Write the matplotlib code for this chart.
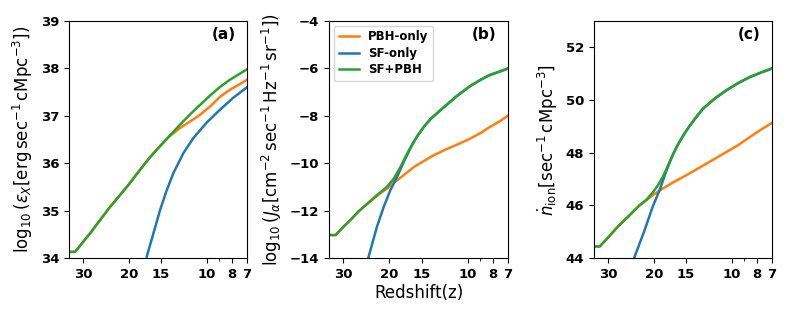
import matplotlib
matplotlib.use("Agg")
import matplotlib.pyplot as plt
from matplotlib.ticker import FixedLocator, FixedFormatter, NullFormatter

orange = "#ff7f0e"
blue = "#1f77b4"
green = "#2ca02c"

# panel (a): X-ray emissivity
za_pbh = [34, 32.2, 30, 28.2, 25.8, 23.6, 21.6, 19.8, 18.1, 16.6, 15.15, 14.4,
          13.9, 12.7, 11.6, 10.62, 9.7, 8.89, 8.14, 7.5, 7]
a_pbh = [34.13, 34.13, 34.34, 34.52, 34.80, 35.08, 35.33, 35.58, 35.86, 36.12, 36.36, 36.49,
         36.57, 36.74, 36.88, 37.02, 37.20, 37.40, 37.55, 37.66, 37.76]
za_sf = [17.05, 16.07, 15.15, 14.28, 13.46, 12.32, 11.27, 10.0, 8.89, 7.91, 7]
a_sf = [34.03, 34.52, 35.01, 35.43, 35.79, 36.21, 36.53, 36.86, 37.13, 37.38, 37.60]
za_tot = [34, 32.2, 30, 28.2, 25.8, 23.6, 21.6, 19.8, 18.1, 16.6, 15.15, 13.9,
          12.7, 11.6, 10.62, 9.7, 8.89, 8.14, 7.5, 7]
a_tot = [34.13, 34.13, 34.34, 34.52, 34.80, 35.08, 35.33, 35.58, 35.86, 36.12, 36.36, 36.58,
         36.81, 37.03, 37.23, 37.43, 37.61, 37.76, 37.88, 37.98]

# panel (b): Lyman-alpha flux
zb_pbh = [34, 32.1, 30, 28, 26.3, 25.1, 22.3, 20.4, 18.65, 16.07, 13.85, 12.13,
          11.0, 9.84, 8.9, 8.24, 7.5, 7]
b_pbh = [-13.03, -13.03, -12.69, -12.37, -12.05, -11.85, -11.38, -11.07, -10.72, -10.16, -9.73, -9.42,
         -9.22, -8.98, -8.72, -8.48, -8.22, -7.99]
zb_sf = [24.0, 22.3, 21.0, 19.8, 18.65, 17.58, 16.56, 16.3, 15.6, 14.7, 13.85, 12.3,
         11.0, 9.84, 8.9, 8.24, 7.5, 7]
b_sf = [-13.96, -12.69, -11.85, -11.14, -10.58, -9.94, -9.36, -9.21, -8.86, -8.46, -8.13, -7.63,
        -7.17, -6.77, -6.48, -6.29, -6.13, -6.01]
zb_tot = [34, 32.1, 30, 28, 26.3, 25.1, 22.3, 20.4, 19.2, 18.1, 17.06, 16.3,
          15.6, 14.7, 13.85, 12.3, 11.0, 9.84, 8.9, 8.24, 7.5, 7]
b_tot = [-13.03, -13.03, -12.69, -12.37, -12.05, -11.85, -11.35, -11.0, -10.65, -10.16, -9.59, -9.2,
         -8.85, -8.45, -8.12, -7.62, -7.16, -6.76, -6.47, -6.28, -6.12, -6.0]

# panel (c): ionizing photon rate
zc_pbh = [34, 32.3, 30, 27.2, 24.8, 22.7, 21.3, 20.2, 18.45, 16.5, 14.98, 12.5,
          10.47, 9.4, 8.5, 7.7, 7]
c_pbh = [44.44, 44.44, 44.78, 45.24, 45.62, 46.0, 46.2, 46.38, 46.64, 46.92, 47.14, 47.59,
         48.03, 48.3, 48.6, 48.88, 49.13]
zc_sf = [23.8, 21.7, 20.2, 19.0, 17.9, 17.2, 16.87, 16.4, 15.9, 15.4, 14.98, 13.9,
         12.9, 11.6, 10.47, 9.4, 8.5, 7.7, 7]
c_sf = [44.0, 45.05, 45.94, 46.57, 47.3, 47.72, 47.91, 48.17, 48.41, 48.64, 48.83, 49.27,
        49.67, 50.06, 50.37, 50.65, 50.87, 51.04, 51.19]
zc_tot = [34, 32.3, 30, 27.2, 24.8, 22.7, 21.3, 20.2, 19.3, 18.45, 17.6, 17.2,
          16.87, 16.4, 15.9, 15.4, 14.98, 13.9, 12.9, 11.6, 10.47, 9.4, 8.5, 7.7, 7]
c_tot = [44.44, 44.44, 44.78, 45.24, 45.62, 46.0, 46.22, 46.48, 46.75, 47.08, 47.52, 47.75,
         47.93, 48.18, 48.42, 48.65, 48.84, 49.28, 49.68, 50.07, 50.38, 50.66, 50.88, 51.05, 51.2]

xticks = [30, 20, 15, 10, 8, 7]
xticklabels = ["30", "20", "15", "10", "8", "7"]

fig = plt.figure(figsize=(7.93, 3.17), dpi=100)
positions = [
    [0.087, 0.186, 0.2245, 0.748],
    [0.415, 0.186, 0.2257, 0.748],
    [0.749, 0.186, 0.2245, 0.748],
]

panels = [
    (za_pbh, a_pbh, za_sf, a_sf, za_tot, a_tot, (34, 39), [34, 35, 36, 37, 38, 39],
     r"$\log_{10}(\varepsilon_X[\mathrm{erg\,sec^{-1}\,cMpc^{-3}}])$", "(a)"),
    (zb_pbh, b_pbh, zb_sf, b_sf, zb_tot, b_tot, (-14, -4), [-14, -12, -10, -8, -6, -4],
     r"$\log_{10}(J_\alpha[\mathrm{cm^{-2}\,sec^{-1}\,Hz^{-1}\,sr^{-1}}])$", "(b)"),
    (zc_pbh, c_pbh, zc_sf, c_sf, zc_tot, c_tot, (44, 53), [44, 46, 48, 50, 52],
     r"$\dot{n}_{\mathrm{ion}}[\mathrm{sec^{-1}\,cMpc^{-3}}]$", "(c)"),
]

axes = []
for pos, (zp, vp, zs, vs, zt, vt, ylim, yticks, ylabel, tag) in zip(positions, panels):
    ax = fig.add_axes(pos)
    ax.plot(zp, vp, color=orange, lw=1.8, label="PBH-only")
    ax.plot(zs, vs, color=blue, lw=1.8, label="SF-only")
    ax.plot(zt, vt, color=green, lw=1.8, label="SF+PBH")
    ax.set_xscale("log")
    ax.set_xlim(34, 7)
    ax.set_ylim(*ylim)
    ax.xaxis.set_major_locator(FixedLocator(xticks))
    ax.xaxis.set_major_formatter(FixedFormatter(xticklabels))
    ax.xaxis.set_minor_formatter(NullFormatter())
    ax.set_yticks(yticks)
    for lab in ax.get_xticklabels() + ax.get_yticklabels():
        lab.set_fontweight("bold")
        lab.set_fontsize(9.5)
    ax.set_ylabel(ylabel, fontsize=12)
    ax.text(0.935, 0.975, tag, transform=ax.transAxes, ha="right", va="top",
            fontsize=11, fontweight="bold")
    axes.append(ax)

axes[1].set_xlabel("Redshift(z)", fontsize=12, labelpad=2)
axes[1].legend(loc="upper left", prop={"weight": "bold", "size": 8.5},
               handlelength=1.7, labelspacing=0.3, borderaxespad=0.4)

fig.savefig("out.png", dpi=100)
